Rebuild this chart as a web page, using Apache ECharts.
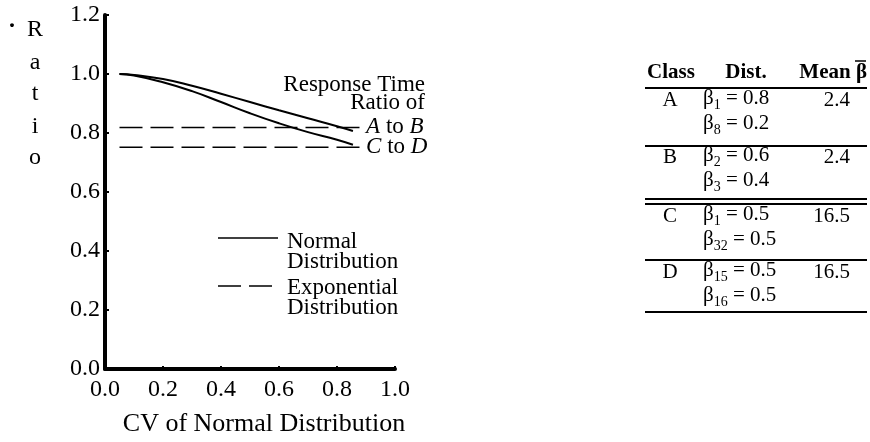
<!DOCTYPE html>
<html>
<head>
<meta charset="utf-8">
<script src="https://cdn.jsdelivr.net/npm/echarts@6/dist/echarts.min.js"></script>
<style>html,body{margin:0;padding:0;background:#fff;}#c{width:870px;height:442px;}</style>
</head>
<body>
<div id="c"></div>
<script>
// ---- data ----
var xTicks = [0.0, 0.2, 0.4, 0.6, 0.8, 1.0];
var yTicks = [0.0, 0.2, 0.4, 0.6, 0.8, 1.0, 1.2];
var cvValues = [0.05, 0.1, 0.2, 0.3, 0.4, 0.5, 0.6, 0.7, 0.8, 0.855];
var normalAtoB = [1.0, 0.997, 0.983, 0.960, 0.933, 0.905, 0.877, 0.850, 0.823, 0.807];
var normalCtoD = [1.0, 0.995, 0.972, 0.942, 0.905, 0.867, 0.833, 0.803, 0.777, 0.760];
var expX = [0.05, 0.89];
var expAtoB = [0.819, 0.819];
var expCtoD = [0.752, 0.752];
var tableClasses = ['A', 'B', 'C', 'D'];
var tableDist1 = [['1', '0.8'], ['2', '0.6'], ['1', '0.5'], ['15', '0.5']];
var tableDist2 = [['8', '0.2'], ['3', '0.4'], ['32', '0.5'], ['16', '0.5']];
var tableMean = ['2.4', '2.4', '16.5', '16.5'];

function pairs(xs, ys) { return xs.map(function (x, i) { return [x, ys[i]]; }); }

var SERIF = '"Liberation Serif", "DejaVu Serif", serif';
var chart = echarts.init(document.getElementById('c'), null, { renderer: 'canvas' });

// ---- table (graphic) ----
var tbl = [];
function hline(y) { return { type: 'line', shape: { x1: 645, y1: y, x2: 867, y2: y }, style: { stroke: '#000', lineWidth: 2 } }; }
function plain(x, y, t, align, bold) {
  return { type: 'text', x: x, y: y, style: { text: t, font: (bold ? 'bold ' : '') + '21px ' + SERIF, fill: '#000', align: align, verticalAlign: 'middle' } };
}
tbl.push(plain(671, 73, 'Class', 'center', true));
tbl.push(plain(746, 73, 'Dist.', 'center', true));
tbl.push(plain(867, 73, 'Mean \u03B2', 'right', true));
tbl.push({ type: 'line', shape: { x1: 855, y1: 61, x2: 866, y2: 61 }, style: { stroke: '#000', lineWidth: 1.5 } });
tbl.push(hline(88));
var rowTops = [100, 157, 216, 272];
var sepLines = [146, 260, 312];
var rich = {
  n: { fontSize: 21, fontFamily: SERIF, lineHeight: 24, verticalAlign: 'top' },
  s: { fontSize: 14, fontFamily: SERIF, lineHeight: 14, verticalAlign: 'top', padding: [10, 0, 0, 0] }
};
for (var i = 0; i < 4; i++) {
  var y1 = rowTops[i], y2 = rowTops[i] + 25;
  tbl.push(plain(670, y1, tableClasses[i], 'center', false));
  tbl.push({ type: 'text', x: 703, y: y1, style: { text: '{n|\u03B2}{s|' + tableDist1[i][0] + '}{n| = ' + tableDist1[i][1] + '}', rich: rich, fill: '#000', align: 'left', verticalAlign: 'middle' } });
  tbl.push({ type: 'text', x: 703, y: y2, style: { text: '{n|\u03B2}{s|' + tableDist2[i][0] + '}{n| = ' + tableDist2[i][1] + '}', rich: rich, fill: '#000', align: 'left', verticalAlign: 'middle' } });
  tbl.push(plain(850, y1, tableMean[i], 'right', false));
}
sepLines.forEach(function (y) { tbl.push(hline(y)); });
tbl.push(hline(199));
tbl.push(hline(204));

// ---- y-axis vertical title ----
var yTitle = ['R', 'a', 't', 'i', 'o'];
var yTitleY = [30, 63, 94, 127, 158];
var yTitleG = yTitle.map(function (ch, k) {
  return { type: 'text', x: 35, y: yTitleY[k], style: { text: ch, font: '24px ' + SERIF, fill: '#000', align: 'center', verticalAlign: 'middle' } };
});
yTitleG.push({ type: 'text', x: 12, y: 27, style: { text: '\u00B7', font: 'bold 24px ' + SERIF, fill: '#000', align: 'center', verticalAlign: 'middle' } });

// ---- legend + annotation (graphic) ----
var legendG = [
  { type: 'line', shape: { x1: 218, y1: 238, x2: 278, y2: 238 }, style: { stroke: '#000', lineWidth: 1.5 } },
  { type: 'text', x: 287, y: 252, style: { text: 'Normal\nDistribution', font: '23px ' + SERIF, lineHeight: 20, fill: '#000', align: 'left', verticalAlign: 'middle' } },
  { type: 'line', shape: { x1: 218, y1: 286, x2: 278, y2: 286 }, style: { stroke: '#000', lineWidth: 1.5, lineDash: [23, 8] } },
  { type: 'text', x: 287, y: 298, style: { text: 'Exponential\nDistribution', font: '23px ' + SERIF, lineHeight: 20, fill: '#000', align: 'left', verticalAlign: 'middle' } },
  { type: 'text', x: 425, y: 94, style: { text: 'Response Time\nRatio of', font: '23px ' + SERIF, lineHeight: 18, fill: '#000', align: 'right', verticalAlign: 'middle' } }
];

var endLbl = function (a, b) {
  return {
    show: true, distance: 3,
    formatter: '{i|' + a + '}{n| to }{i|' + b + '}',
    rich: { i: { fontFamily: SERIF, fontSize: 23, fontStyle: 'italic', color: '#000' }, n: { fontFamily: SERIF, fontSize: 23, color: '#000' } }
  };
};

chart.setOption({
  animation: false,
  backgroundColor: '#fff',
  textStyle: { fontFamily: SERIF },
  grid: { left: 105, right: 475, top: 15, bottom: 67, containLabel: false },
  xAxis: {
    type: 'value', min: 0, max: 1, interval: 0.2,
    name: 'CV of Normal Distribution', nameLocation: 'middle', nameGap: 42,
    nameTextStyle: { fontFamily: SERIF, fontSize: 26, color: '#000', padding: [0, 0, 0, 28] },
    axisLine: { show: true, lineStyle: { color: '#000', width: 4 } },
    axisTick: { show: true, inside: true, length: 3, lineStyle: { color: '#000', width: 2 } },
    axisLabel: { color: '#000', fontFamily: SERIF, fontSize: 24, margin: 9, formatter: function (v) { return v.toFixed(1); }, customValues: xTicks },
    splitLine: { show: false }
  },
  yAxis: {
    type: 'value', min: 0, max: 1.2, interval: 0.2,
    axisLine: { show: true, lineStyle: { color: '#000', width: 4 } },
    axisTick: { show: true, inside: true, length: 4, lineStyle: { color: '#000', width: 2 } },
    axisLabel: { color: '#000', fontFamily: SERIF, fontSize: 24, margin: 5, formatter: function (v) { return v.toFixed(1); }, customValues: yTicks },
    splitLine: { show: false }
  },
  series: [
    { name: 'Normal Distribution', type: 'line', data: pairs(cvValues, normalAtoB), smooth: true, symbol: 'none', lineStyle: { color: '#000', width: 2 } },
    { name: 'Normal Distribution', type: 'line', data: pairs(cvValues, normalCtoD), smooth: true, symbol: 'none', lineStyle: { color: '#000', width: 2 } },
    { name: 'Exponential Distribution', type: 'line', data: pairs(expX, expAtoB), symbol: 'none', lineStyle: { color: '#000', width: 1.5, type: [23, 8] }, endLabel: endLbl('A', 'B') },
    { name: 'Exponential Distribution', type: 'line', data: pairs(expX, expCtoD), symbol: 'none', lineStyle: { color: '#000', width: 1.5, type: [23, 8] }, endLabel: endLbl('C', 'D') }
  ],
  graphic: [].concat(tbl, yTitleG, legendG)
});
</script>
</body>
</html>
